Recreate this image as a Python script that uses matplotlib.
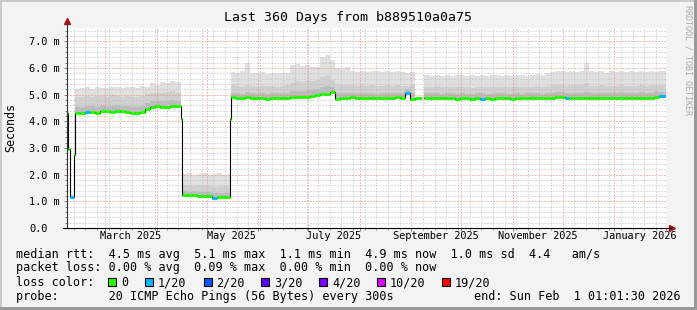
import datetime as dt
import numpy as np
import matplotlib
matplotlib.use("Agg")
from matplotlib import pyplot as plt
import matplotlib.dates as mdates
from matplotlib.ticker import MultipleLocator
from matplotlib.patches import Rectangle

plt.rcParams["font.family"] = ["DejaVu Sans Mono"]

START = dt.datetime(2025, 2, 6, 1, 1, 30)

# days since START, median rtt (ms), smoke levels (ms), loss (pings lost of 20)
days = [
    0, 0.6, 1.8, 4.0, 4.6,
    8, 11, 14, 17, 20, 23, 26, 29, 32, 35,
    38, 41, 44, 47, 50, 53, 56, 59, 62, 65,
    68.8, 69.3, 72, 75, 78, 81, 84, 87, 90, 93,
    96, 97.7,
    98.6, 101, 104, 107, 110, 113, 116, 119, 122, 125,
    128, 131, 134, 137, 140, 143, 146, 149, 152, 155,
    158, 161, 164, 167, 170, 173, 176, 179, 182, 185,
    188, 191, 194, 197, 200, 203, 206, 209, 212.5,
    214.6, 218, 221, 224, 227, 230, 233, 236, 239, 242,
    245, 248, 251, 254, 257, 260, 263, 266, 269, 272,
    275, 278, 281, 284, 287, 290, 293, 296, 299, 302,
    305, 308, 311, 314, 317, 320, 323, 326, 329, 332,
    335, 338, 341, 344, 347, 350, 353, 356, 360,
]

median = [
    4.30, 2.98, 1.17, 2.72, 4.33,
    4.33, 4.34, 4.36, 4.32, 4.38, 4.37, 4.36, 4.38, 4.37, 4.35,
    4.33, 4.31, 4.36, 4.47, 4.52, 4.56, 4.54, 4.55, 4.57, 4.56,
    4.10, 1.24, 1.22, 1.23, 1.20, 1.21, 1.19, 1.14, 1.16, 1.15,
    1.15, 4.10,
    4.90, 4.88, 4.86, 4.90, 4.87, 4.86, 4.88, 4.85, 4.86, 4.87,
    4.88, 4.86, 4.90, 4.92, 4.91, 4.93, 4.95, 4.97, 5.02, 5.04,
    5.10, 4.84, 4.89, 4.87, 4.90, 4.88, 4.89, 4.87, 4.88, 4.86,
    4.89, 4.88, 4.87, 4.90, 4.89, 5.05, 4.85, 4.88, np.nan,
    4.88, 4.87, 4.89, 4.86, 4.88, 4.87, 4.85, 4.88, 4.86, 4.84,
    4.87, 4.83, 4.86, 4.85, 4.87, 4.88, 4.86, 4.85, 4.87, 4.86,
    4.88, 4.87, 4.89, 4.86, 4.88, 4.86, 4.90, 4.91, 4.89, 4.87,
    4.86, 4.88, 4.87, 4.86, 4.88, 4.87, 4.86, 4.88, 4.87, 4.89,
    4.86, 4.88, 4.87, 4.89, 4.86, 4.88, 4.92, 4.95, 4.90,
]

smoke_max = [
    4.40, 3.05, 1.25, 2.80, 5.20,
    5.25, 5.28, 5.22, 5.30, 5.26, 5.24, 5.30, 5.27, 5.25, 5.28,
    5.30, 5.26, 5.32, 5.28, 5.42, 5.35, 5.48, 5.45, 5.50, 5.47,
    4.15, 2.02, 2.05, 1.98, 2.03, 2.06, 1.97, 2.04, 2.08, 2.00,
    2.03, 4.15,
    5.85, 5.82, 5.88, 6.20, 5.83, 5.80, 5.84, 5.78, 5.82, 5.80,
    5.83, 5.81, 6.10, 6.15, 6.08, 6.12, 6.05, 6.02, 6.40, 6.50,
    6.30, 6.00, 5.98, 6.02, 5.90, 5.86, 5.88, 5.85, 5.90, 5.87,
    5.86, 5.89, 5.84, 5.88, 5.86, 5.82, 5.85, 5.83, np.nan,
    5.72, 5.70, 5.74, 5.71, 5.73, 5.69, 5.72, 5.75, 5.70, 5.73,
    5.71, 5.74, 5.70, 5.72, 5.75, 5.71, 5.73, 5.70, 5.74, 5.72,
    5.71, 5.73, 5.76, 5.74, 5.80, 5.86, 5.90, 5.87, 5.85, 5.88,
    5.86, 5.88, 6.20, 5.88, 5.85, 5.87, 5.83, 5.89, 5.86, 5.88,
    5.85, 5.87, 5.84, 5.88, 5.86, 5.89, 5.85, 5.87, 5.87,
]

smoke_mid = [
    4.35, 3.02, 1.22, 2.76, 4.90,
    4.92, 4.95, 4.90, 4.96, 4.94, 4.92, 4.97, 4.95, 4.93, 4.94,
    4.92, 4.90, 4.95, 5.02, 5.06, 5.08, 5.05, 5.10, 5.12, 5.08,
    4.12, 1.62, 1.60, 1.58, 1.63, 1.60, 1.57, 1.55, 1.58, 1.56,
    1.57, 4.12,
    5.35, 5.32, 5.30, 5.38, 5.33, 5.30, 5.34, 5.31, 5.33, 5.30,
    5.32, 5.35, 5.45, 5.50, 5.48, 5.52, 5.50, 5.55, 5.65, 5.75,
    5.55, 5.40, 5.38, 5.36, 5.35, 5.33, 5.36, 5.34, 5.35, 5.32,
    5.34, 5.36, 5.33, 5.35, 5.34, 5.32, 5.35, 5.33, np.nan,
    5.30, 5.28, 5.31, 5.27, 5.30, 5.29, 5.27, 5.30, 5.28, 5.26,
    5.29, 5.30, 5.27, 5.28, 5.30, 5.29, 5.27, 5.28, 5.30, 5.28,
    5.29, 5.30, 5.31, 5.30, 5.33, 5.35, 5.37, 5.36, 5.34, 5.35,
    5.36, 5.38, 5.45, 5.34, 5.33, 5.35, 5.32, 5.34, 5.33, 5.35,
    5.32, 5.34, 5.33, 5.35, 5.33, 5.36, 5.38, 5.37, 5.37,
]

smoke_dark = [
    4.32, 3.00, 1.20, 2.74, 4.55,
    4.55, 4.56, 4.58, 4.54, 4.60, 4.58, 4.57, 4.60, 4.58, 4.56,
    4.55, 4.53, 4.58, 4.70, 4.75, 4.78, 4.76, 4.78, 4.80, 4.78,
    4.11, 1.38, 1.36, 1.37, 1.35, 1.36, 1.34, 1.30, 1.31, 1.30,
    1.31, 4.11,
    5.08, 5.06, 5.04, 5.10, 5.06, 5.04, 5.07, 5.03, 5.05, 5.06,
    5.07, 5.05, 5.12, 5.15, 5.14, 5.16, 5.18, 5.20, 5.28, 5.32,
    5.30, 5.06, 5.08, 5.05, 5.08, 5.06, 5.07, 5.05, 5.06, 5.04,
    5.07, 5.06, 5.05, 5.08, 5.07, 5.20, 5.06, 5.06, np.nan,
    5.06, 5.05, 5.07, 5.04, 5.06, 5.05, 5.03, 5.06, 5.04, 5.02,
    5.05, 5.06, 5.04, 5.03, 5.05, 5.06, 5.04, 5.03, 5.05, 5.04,
    5.06, 5.05, 5.07, 5.04, 5.06, 5.08, 5.10, 5.09, 5.07, 5.05,
    5.06, 5.08, 5.10, 5.06, 5.08, 5.07, 5.06, 5.08, 5.07, 5.09,
    5.06, 5.08, 5.07, 5.09, 5.06, 5.08, 5.12, 5.10, 5.10,
]

loss = [
    0, 0, 1, 0, 0,
    0, 1, 0, 0, 0, 0, 0, 0, 0, 0,
    0, 0, 0, 0, 0, 0, 0, 0, 0, 0,
    0, 0, 0, 0, 0, 0, 0, 1, 0, 0,
    0, 0,
    0, 0, 0, 0, 0, 0, 0, 0, 0, 0,
    0, 0, 0, 0, 0, 0, 0, 0, 0, 0,
    0, 0, 0, 0, 0, 0, 0, 0, 0, 0,
    0, 0, 0, 0, 0, 1, 0, 0, 0,
    0, 0, 0, 0, 0, 0, 0, 0, 0, 0,
    0, 1, 0, 0, 0, 0, 0, 0, 0, 0,
    0, 0, 0, 0, 0, 0, 0, 0, 1, 0,
    0, 0, 0, 0, 0, 0, 0, 0, 0, 0,
    0, 0, 0, 0, 0, 0, 0, 1, 0,
]

loss_keys = [0, 1, 2, 3, 4, 10, 19]
loss_labels = ["0", "1/20", "2/20", "3/20", "4/20", "10/20", "19/20"]
loss_colors = ["#26ff00", "#00b8ff", "#0059ff", "#5e00ff", "#7e00ff", "#dd00ff", "#ff0000"]

ytick_vals = [0, 1, 2, 3, 4, 5, 6, 7]
ytick_labels = ["0.0", "1.0 m", "2.0 m", "3.0 m", "4.0 m", "5.0 m", "6.0 m", "7.0 m"]

xlabel_dates = [dt.datetime(2025, 3, 16), dt.datetime(2025, 5, 16), dt.datetime(2025, 7, 16),
                dt.datetime(2025, 9, 16), dt.datetime(2025, 11, 16), dt.datetime(2026, 1, 16)]
xlabel_text = ["March 2025", "May 2025", "July 2025", "September 2025", "November 2025", "January 2026"]

W, H = 697, 310


def fx(px):
    return px / W


def fy(py):
    return 1 - py / H


fig = plt.figure(figsize=(W / 100, H / 100), dpi=100, facecolor="#f3f3f3")
ax = fig.add_axes([fx(67), fy(228), (666 - 67) / W, (228 - 28) / H])
ax.set_facecolor("white")

x = mdates.date2num([START + dt.timedelta(days=d) for d in days])
med = np.array(median)

# smoke
ax.fill_between(x, smoke_mid, smoke_max, step="post", color="#e0e0e0", lw=0, antialiased=False)
ax.fill_between(x, smoke_dark, smoke_mid, step="post", color="#d0d0d0", lw=0, antialiased=False)
ax.fill_between(x, med, smoke_dark, step="post", color="#bcbcbc", lw=0, antialiased=False)

# median line
ax.step(x, med, where="post", color="black", lw=0.8, zorder=3)
ok = ~np.isnan(med[:-1])
cmap = dict(zip(loss_keys, loss_colors))
seg_cols = [cmap[l] for l in np.array(loss[:-1])[ok]]
ax.hlines(med[:-1][ok], x[:-1][ok], x[1:][ok], colors=seg_cols, lw=2.2, zorder=4)

ax.set_xlim(mdates.date2num(START), mdates.date2num(START + dt.timedelta(days=360)))
ax.set_ylim(0, 7.5)

# grid
ax.set_yticks(ytick_vals, ytick_labels)
ax.yaxis.set_minor_locator(MultipleLocator(0.2))
ax.xaxis.set_major_locator(mdates.MonthLocator())
ax.xaxis.set_minor_locator(mdates.WeekdayLocator(byweekday=mdates.MO))
ax.set_axisbelow(False)
ax.grid(which="minor", color="#bdbdbd", linestyle=(0, (1, 2)), lw=0.72)
ax.grid(which="major", color="#ee8080", linestyle=(0, (1, 2)), lw=0.72)
ax.tick_params(axis="x", which="both", labelbottom=False, direction="out", color="#888888", width=0.72)
ax.tick_params(axis="x", which="major", length=2.5)
ax.tick_params(axis="x", which="minor", length=1.5)
ax.tick_params(axis="y", which="major", length=2.2, width=0.72, color="#888888", pad=25.2, labelsize=7.4)
ax.tick_params(axis="y", which="minor", length=1.4, width=0.72, color="#888888")
for lab in ax.get_yticklabels():
    lab.set_horizontalalignment("left")
for s in ax.spines.values():
    s.set_visible(False)

sec = ax.secondary_xaxis("bottom")
sec.set_xticks(mdates.date2num(xlabel_dates), xlabel_text)
sec.tick_params(length=0, pad=2.5, labelsize=7.4)
sec.spines["bottom"].set_visible(False)

# axes lines and arrows
ax.plot([0, 0], [0, 1.02], transform=ax.transAxes, color="#333333", lw=0.8, clip_on=False, zorder=5)
ax.plot([-0.006, 1.008], [0, 0], transform=ax.transAxes, color="black", lw=0.8, clip_on=False, zorder=5)
ax.plot([0], [1.035], marker="^", ms=4.5, color="#a01818", transform=ax.transAxes, clip_on=False)
ax.plot([1.01], [0], marker=">", ms=4.5, color="#a01818", transform=ax.transAxes, clip_on=False)

# texts
fig.text(fx(348), fy(18), "Last 360 Days from b889510a0a75", ha="center", va="center", fontsize=9.5)
fig.text(fx(11), fy(127), "Seconds", rotation=90, ha="center", va="center", fontsize=8.4)
fig.text(fx(688), fy(60), "RRDTOOL / TOBI OETIKER", rotation=270, ha="center", va="center",
         fontsize=6, color="#a8a8a8")

fig.text(fx(16), fy(254.7), "median rtt:  4.5 ms avg  5.1 ms max  1.1 ms min  4.9 ms now  1.0 ms sd  4.4   am/s",
         va="center", fontsize=8.5)
fig.text(fx(16), fy(268), "packet loss: 0.00 % avg  0.09 % max  0.00 % min  0.00 % now",
         va="center", fontsize=8.5)
fig.text(fx(16), fy(282.5), "loss color:", va="center", fontsize=8.5)
sq_x = [108, 145, 203.5, 261, 319, 377, 442]
for px, lab, col in zip(sq_x, loss_labels, loss_colors):
    fig.add_artist(Rectangle((fx(px), fy(286)), 8 / W, 8 / H, transform=fig.transFigure,
                             facecolor=col, edgecolor="black", lw=0.8))
    fig.text(fx(px + 13), fy(282.5), lab, va="center", fontsize=8.5)
fig.text(fx(16), fy(296.7), "probe:       20 ICMP Echo Pings (56 Bytes) every 300s", va="center", fontsize=8.5)
fig.text(fx(681), fy(296.7), "end: Sun Feb  1 01:01:30 2026", ha="right", va="center", fontsize=8.5)

# 3d frame
fig.add_artist(Rectangle((0, 1 - 2 / H), 1, 2 / H, transform=fig.transFigure, color="#cbcbcb", lw=0))
fig.add_artist(Rectangle((0, 0), 2 / W, 1, transform=fig.transFigure, color="#cbcbcb", lw=0))
fig.add_artist(Rectangle((1 - 3 / W, 0), 3 / W, 1, transform=fig.transFigure, color="#999999", lw=0))
fig.add_artist(Rectangle((0, 0), 1, 3 / H, transform=fig.transFigure, color="#999999", lw=0))

fig.savefig("out.png", dpi=100, facecolor=fig.get_facecolor())
